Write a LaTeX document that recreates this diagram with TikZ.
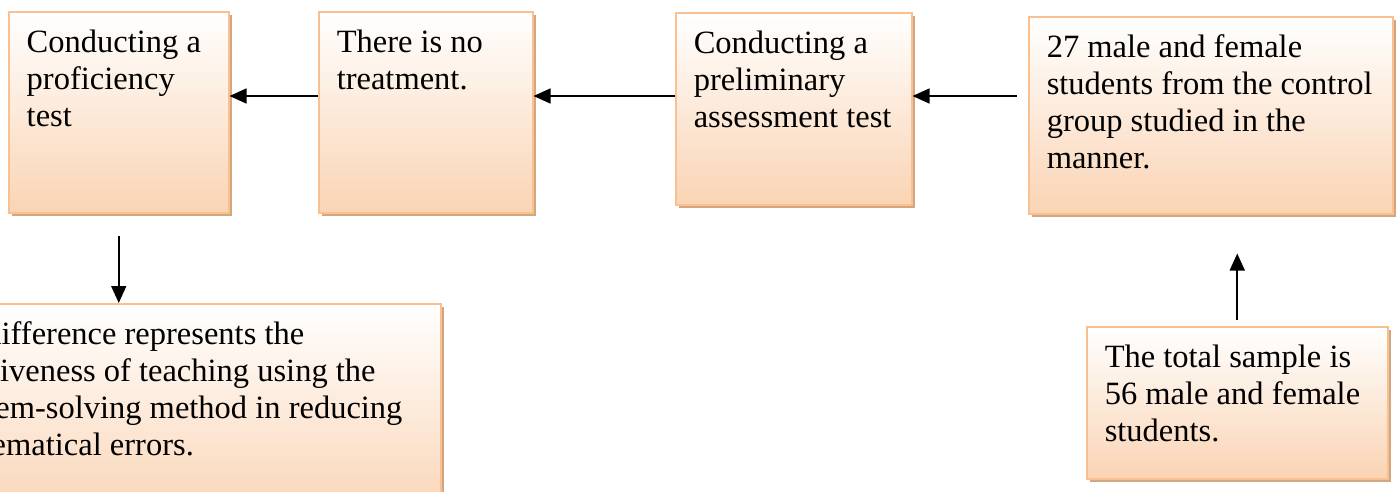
\documentclass[tikz,border=0pt]{standalone}
\usepackage{fontspec}
\setmainfont{Liberation Serif}
\usetikzlibrary{shapes,arrows.meta}
\usetikzlibrary{positioning}
\usetikzlibrary{shadows}
\definecolor{boxedge}{RGB}{250,192,144}
\definecolor{boxfill}{RGB}{250,212,180}
\definecolor{boxshade}{RGB}{211,166,128}
\tikzstyle{stage} = [draw=boxedge, line width=1.5pt, top color=white,
bottom color=boxfill, anchor=north west, align=flush left,
drop shadow={shadow xshift=3pt, shadow yshift=-3pt, fill=boxshade, opacity=1},
inner xsep=18pt, inner ysep=20pt, text height=21pt,
font=\fontsize{32.5}{36.8}\selectfont]
\tikzstyle{line} = [draw, -{Triangle[length=17pt,width=15pt]}, line width=1.6pt]

\begin{document}
\begin{tikzpicture}[x=1pt, y=1pt]
    \useasboundingbox (0,0) rectangle (1397,-491);
    \clip (0,0) rectangle (1397,-491);
    \coordinate (row) at (0,-96);
    \node [stage, text width=184pt, text depth=140pt] (prof) at (8,-11)
        {Conducting a\\ proficiency\\ test};
    \node [stage, text width=178pt, text depth=140pt] (treat) at (318,-11)
        {There is no\\ treatment.};
    \node [stage, text width=200pt, text depth=131pt] (pre) at (675,-12)
        {Conducting a\\ preliminary\\ assessment test};
    \node [stage, text width=328pt, text depth=136pt] (ctrl) at (1028,-16)
        {27 male and female\\ students from the control\\ group studied in the\\ manner.};
    \node [stage, text width=496pt, text depth=157pt] (diff) at (-92,-303)
        {The difference represents the\\ effectiveness of teaching using the\\
         problem-solving method in reducing\\ mathematical errors.};
    \node [stage, text width=265pt, text depth=91pt] (total) at (1086,-326)
        {The total sample is\\ 56 male and female\\ students.};
    \coordinate (uptip) at ([yshift=-39pt]total.north |- ctrl.south);
	%% Arrows
    \path [line] (treat.west |- row) to (prof.east |- row);
    \path [line] (pre.west |- row) to (treat.east |- row);
    \path [line] ([xshift=-11pt]ctrl.west |- row) to (pre.east |- row);
    \path [line] ([yshift=-22pt]prof.south) to (prof.south |- diff.north);
    \path [line] ([yshift=6pt]total.north) to (uptip);
\end{tikzpicture}
\end{document}
